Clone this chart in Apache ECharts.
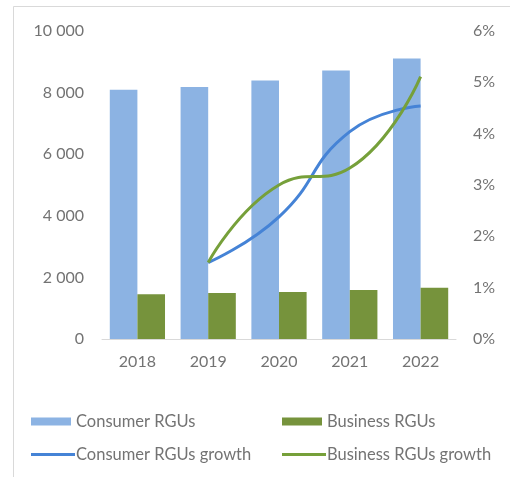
<!DOCTYPE html>
<html>
<head>
<meta charset="utf-8">
<script src="https://cdn.jsdelivr.net/npm/echarts@6/dist/echarts.min.js"></script>
<style>
  html, body { margin: 0; padding: 0; background: #ffffff; }
  #chart { width: 510px; height: 477px; }
</style>
</head>
<body>
<div id="chart"></div>
<script>
// RGU counts (thousands) and year-on-year growth, 2018-2022
const years = ['2018', '2019', '2020', '2021', '2022'];
const consumerRGUs = [8090, 8180, 8390, 8720, 9110];
const businessRGUs = [1450, 1490, 1530, 1590, 1660];
const consumerGrowth = [null, 1.49, 2.38, 4.04, 4.54];
const businessGrowth = [null, 1.49, 3.0, 3.33, 5.11];
const leftTicks = [0, 2000, 4000, 6000, 8000, 10000];
const rightTicks = [0, 1, 2, 3, 4, 5, 6];

const FONT = 'Lato';
const TEXT = '#737373';
const C_BLUE_BAR = '#8cb3e3';
const C_GREEN_BAR = '#76933c';
const C_BLUE_LINE = '#4583d6';
const C_GREEN_LINE = '#76a03a';

const fmtThousands = v => v >= 1000 ? Math.floor(v / 1000) + ' ' + String(v % 1000).padStart(3, '0') : String(v);

function legendItem(name, left, top, w, h, shift) {
  return {
    data: [{ name: name, icon: 'rect' }],
    left: left, top: top,
    itemWidth: w, itemHeight: h,
    itemGap: 0,
    textStyle: { fontFamily: FONT, fontSize: 16.5, color: TEXT, padding: [0, 0, 0, shift] },
    selectedMode: false
  };
}

const chart = echarts.init(document.getElementById('chart'), null, { renderer: 'canvas' });
chart.setOption({
  animation: false,
  backgroundColor: '#ffffff',
  graphic: [{
    type: 'rect',
    shape: { x: 13.5, y: 6.5, width: 600, height: 600 },
    style: { fill: 'none', stroke: '#d9d9d9', lineWidth: 1 },
    silent: true
  }],
  grid: { left: 102, right: 54, top: 31, bottom: 138 },
  legend: [
    legendItem('Consumer RGUs', 26, 408, 40, 8, 0),
    legendItem('Business RGUs', 277, 408, 40, 8, 0),
    legendItem('Consumer RGUs growth', 26, 441, 44, 3, -4),
    legendItem('Business RGUs growth', 277, 441, 44, 3, -4)
  ],
  xAxis: {
    type: 'category',
    data: years,
    axisLine: { lineStyle: { color: '#d9d9d9', width: 1 } },
    axisTick: { show: false },
    axisLabel: { fontFamily: FONT, fontSize: 16, color: TEXT, margin: 15 }
  },
  yAxis: [{
    type: 'value',
    min: leftTicks[0], max: leftTicks[leftTicks.length - 1], interval: 2000,
    splitLine: { show: false },
    axisLine: { show: false },
    axisTick: { show: false },
    axisLabel: { fontFamily: FONT, fontSize: 16, color: TEXT, margin: 18, formatter: fmtThousands }
  }, {
    type: 'value',
    min: rightTicks[0], max: rightTicks[rightTicks.length - 1], interval: 1,
    splitLine: { show: false },
    axisLine: { show: false },
    axisTick: { show: false },
    axisLabel: { fontFamily: FONT, fontSize: 16, color: TEXT, margin: 17, formatter: v => v + '%' }
  }],
  series: [{
    name: 'Consumer RGUs',
    type: 'bar',
    data: consumerRGUs,
    barGap: '0%',
    barCategoryGap: '22%',
    itemStyle: { color: C_BLUE_BAR }
  }, {
    name: 'Business RGUs',
    type: 'bar',
    data: businessRGUs,
    itemStyle: { color: C_GREEN_BAR }
  }, {
    name: 'Consumer RGUs growth',
    type: 'line',
    yAxisIndex: 1,
    data: consumerGrowth,
    smooth: 0.5,
    symbol: 'none',
    itemStyle: { color: C_BLUE_LINE },
    lineStyle: { color: C_BLUE_LINE, width: 3 }
  }, {
    name: 'Business RGUs growth',
    type: 'line',
    yAxisIndex: 1,
    data: businessGrowth,
    smooth: 0.5,
    symbol: 'none',
    itemStyle: { color: C_GREEN_LINE },
    lineStyle: { color: C_GREEN_LINE, width: 3 }
  }]
});
</script>
</body>
</html>
